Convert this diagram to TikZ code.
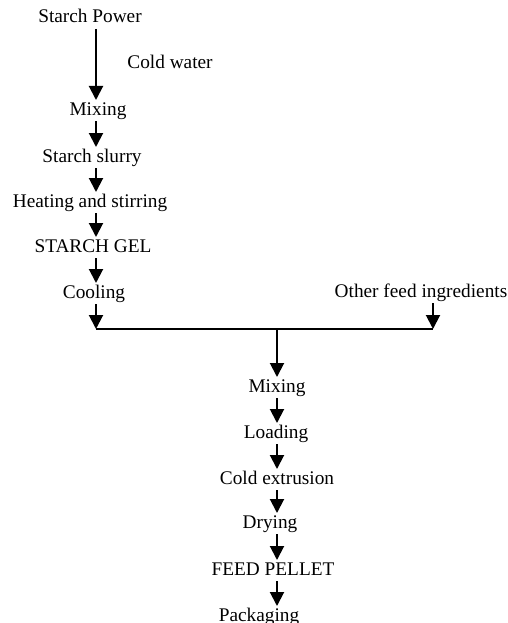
\documentclass[tikz,border=0pt]{standalone}
\usepackage{fontspec}
\setmainfont{Liberation Serif}
\usetikzlibrary{arrows.meta}
\begin{document}
\begin{tikzpicture}[x=1pt,y=1pt,
  lbl/.style={anchor=base,inner sep=0pt,outer xsep=0pt,outer ysep=2pt,text height=13pt,text depth=4pt,font=\fontsize{19.3}{22}\selectfont},
  arr/.style={line width=2pt,-{Triangle[length=14pt,width=14pt]}},
  ln/.style={line width=2pt}]
\useasboundingbox (0,0) rectangle (507,-623);
\fill[white] (0,0) rectangle (507,-623);
% columns
\coordinate (colA) at (96,0);
\coordinate (colB) at (277,0);
\coordinate (colC) at (433,0);
% left column
\node[lbl] (sp) at (90,-23) {Starch Power};
\node[lbl] (cw) at (170,-69) {Cold water};
\node[lbl] (mx1) at (98,-115) {Mixing};
\node[lbl] (ss) at (92,-162) {Starch slurry};
\node[lbl] (hs) at (90,-207) {Heating and stirring};
\node[lbl] (sg) at (93,-252) {STARCH GEL};
\node[lbl] (co) at (94,-298) {Cooling};
\node[lbl] (of) at (421,-297) {Other feed ingredients};
% junction line
\coordinate (jl) at (96,-329);
\coordinate (jm) at (277,-329);
\coordinate (jr) at (433,-329);
% right column
\node[lbl] (mx2) at (277,-392) {Mixing};
\node[lbl] (ld) at (276,-438) {Loading};
\node[lbl] (ce) at (277,-484) {Cold extrusion};
\node[lbl] (dr) at (270,-528) {Drying};
\node[lbl] (fp) at (273,-575) {FEED PELLET};
\node[lbl] (pk) at (259,-621) {Packaging};
% arrows
\draw[arr] (sp.south -| colA) -- (mx1.north -| colA);
\draw[arr] (mx1.south -| colA) -- (ss.north -| colA);
\draw[arr] (ss.south -| colA) -- (hs.north -| colA);
\draw[arr] (hs.south -| colA) -- (sg.north -| colA);
\draw[arr] (sg.south -| colA) -- (co.north -| colA);
\draw[arr] (co.south -| colA) -- (jl);
\draw[arr] (of.south -| colC) -- (jr);
\draw[ln] (jl) -- (jr);
\draw[arr] (jm) -- (mx2.north -| colB);
\draw[arr] (mx2.south -| colB) -- (ld.north -| colB);
\draw[arr] (ld.south -| colB) -- (ce.north -| colB);
\draw[arr] (ce.south -| colB) -- (dr.north -| colB);
\draw[arr] (dr.south -| colB) -- (fp.north -| colB);
\draw[arr] (fp.south -| colB) -- (pk.north -| colB);
\end{tikzpicture}
\end{document}
